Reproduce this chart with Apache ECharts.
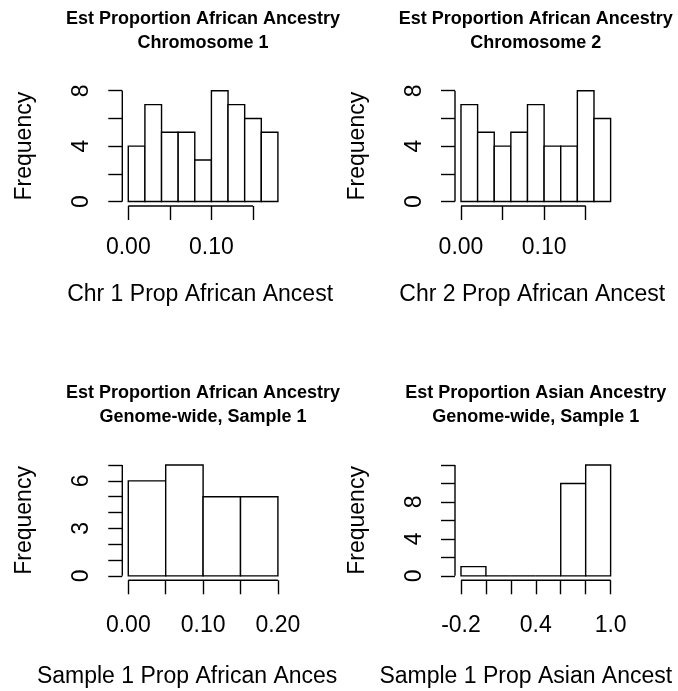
<!DOCTYPE html>
<html><head><meta charset="utf-8">
<script src="https://cdn.jsdelivr.net/npm/echarts@6/dist/echarts.min.js"></script>
<style>html,body{margin:0;padding:0;background:#fff}#c{width:678px;height:691px}</style>
</head><body><div id="c"></div>
<script>
// ---------- data ----------
const chr1Edges = [0, 0.02, 0.04, 0.06, 0.08, 0.10, 0.12, 0.14, 0.16, 0.18];
const chr1Counts = [4, 7, 5, 5, 3, 8, 7, 6, 5];
const chr2Edges = [0, 0.02, 0.04, 0.06, 0.08, 0.10, 0.12, 0.14, 0.16, 0.18];
const chr2Counts = [7, 5, 4, 5, 7, 4, 4, 8, 6];
const afrEdges = [0, 0.05, 0.10, 0.15, 0.20];
const afrCounts = [6, 7, 5, 5];
const asnEdges = [-0.2, 0, 0.2, 0.4, 0.6, 0.8, 1.0];
const asnCounts = [1, 0, 0, 0, 10, 12];

const chrXTicks = [0, 0.05, 0.10, 0.15];
const chrXLabels = [0, 0.10];
const chrYTicks = [0, 2, 4, 6, 8];
const chrYLabels = [0, 4, 8];
const afrXTicks = [0, 0.05, 0.10, 0.15, 0.20];
const afrXLabels = [0, 0.10, 0.20];
const afrYTicks = [0, 1, 2, 3, 4, 5, 6, 7];
const afrYLabels = [0, 3, 6];
const asnXTicks = [-0.2, 0, 0.2, 0.4, 0.6, 0.8, 1.0];
const asnXLabels = [-0.2, 0.4, 1.0];
const asnYTicks = [0, 2, 4, 6, 8, 10, 12];
const asnYLabels = [0, 4, 8];

const titles = [
  'Est Proportion African Ancestry\nChromosome 1',
  'Est Proportion African Ancestry\nChromosome 2',
  'Est Proportion African Ancestry\nGenome-wide, Sample 1',
  'Est Proportion Asian Ancestry\nGenome-wide, Sample 1'
];
const xNames = ['Chr 1 Prop African Ancest', 'Chr 2 Prop African Ancest',
                'Sample 1 Prop African Ances', 'Sample 1 Prop Asian Ancest'];
const yName = 'Frequency';

// ---------- layout ----------
const FONT = 'Liberation Sans, Arial, Helvetica, sans-serif';
const FS = 23;
const panels = [
  {edges: chr1Edges, counts: chr1Counts, xt: chrXTicks, xl: chrXLabels, yt: chrYTicks, yl: chrYLabels, dec: 2,
   left: 122.3, top: 86.3, labMargin: 30, nameGap: 77, namePad: 6, titleTop: 7},
  {edges: chr2Edges, counts: chr2Counts, xt: chrXTicks, xl: chrXLabels, yt: chrYTicks, yl: chrYLabels, dec: 2,
   left: 455, top: 86.3, labMargin: 30, nameGap: 77, namePad: 7, titleTop: 7},
  {edges: afrEdges, counts: afrCounts, xt: afrXTicks, xl: afrXLabels, yt: afrYTicks, yl: afrYLabels, dec: 2,
   left: 122.3, top: 460.6, labMargin: 34, nameGap: 85, namePad: 32, titleTop: 381.3},
  {edges: asnEdges, counts: asnCounts, xt: asnXTicks, xl: asnXLabels, yt: asnYTicks, yl: asnYLabels, dec: 1,
   left: 455, top: 460.6, labMargin: 34, nameGap: 85, namePad: 20, titleTop: 381.3}
];
const W = 161.6, H = 119.7;

const option = {
  animation: false,
  backgroundColor: '#fff',
  title: [], grid: [], xAxis: [], yAxis: [], series: []
};

panels.forEach((p, i) => {
  const xlo = p.edges[0], xhi = p.edges[p.edges.length - 1];
  const yhi = Math.max(...p.counts);
  const xmin = xlo - 0.04 * (xhi - xlo), xmax = xhi + 0.04 * (xhi - xlo);
  const ymin = -0.04 * yhi, ymax = yhi * 1.04;
  option.grid.push({left: p.left, top: p.top, width: W, height: H, outerBoundsMode: 'none', containLabel: false});
  option.title.push({
    text: titles[i], left: p.left + W / 2, top: p.titleTop, textAlign: 'center', padding: 0,
    textStyle: {fontFamily: FONT, fontSize: 18, fontWeight: 'bold', color: '#000', lineHeight: 24}
  });
  option.xAxis.push({
    gridIndex: i, type: 'value', min: xmin, max: xmax,
    axisLine: {show: false, onZero: false},
    axisTick: {show: true, length: 14, customValues: p.xt, lineStyle: {color: '#000', width: 1.4}},
    axisLabel: {customValues: p.xl, formatter: v => Number(v).toFixed(p.dec), fontFamily: FONT,
                fontSize: FS, color: '#000', margin: p.labMargin},
    splitLine: {show: false},
    name: xNames[i], nameLocation: 'middle', nameGap: p.nameGap,
    nameTextStyle: {fontFamily: FONT, fontSize: FS, color: '#000', padding: [0, p.namePad, 0, 0]}
  });
  option.yAxis.push({
    gridIndex: i, type: 'value', min: ymin, max: ymax,
    axisLine: {show: false, onZero: false},
    axisTick: {show: true, length: 14, customValues: p.yt, lineStyle: {color: '#000', width: 1.4}},
    axisLabel: {customValues: p.yl, rotate: 90, fontFamily: FONT, fontSize: FS, color: '#000', margin: 29},
    splitLine: {show: false},
    name: yName, nameLocation: 'middle', nameGap: 86, nameRotate: 90,
    nameTextStyle: {fontFamily: FONT, fontSize: FS, color: '#000'}
  });
  // histogram bars
  const bars = p.counts.map((c, k) => [p.edges[k], p.edges[k + 1], c]);
  option.series.push({
    type: 'custom', xAxisIndex: i, yAxisIndex: i, data: bars, clip: false,
    renderItem: (params, api) => {
      const a = api.coord([api.value(0), 0]);
      const b = api.coord([api.value(1), api.value(2)]);
      return {type: 'rect', shape: {x: a[0], y: b[1], width: b[0] - a[0], height: a[1] - b[1]},
              style: {fill: '#fff', stroke: '#000', lineWidth: 1.4}};
    }
  });
  // axis lines (span first to last tick, at plot-region edge like R)
  const axisData = [[p.xt[0], p.xt[p.xt.length - 1], p.yt[0], p.yt[p.yt.length - 1], xmin, ymin]];
  option.series.push({
    type: 'custom', xAxisIndex: i, yAxisIndex: i, data: axisData, clip: false, silent: true,
    renderItem: (params, api) => {
      const xa = api.coord([api.value(0), api.value(5)]);
      const xb = api.coord([api.value(1), api.value(5)]);
      const ya = api.coord([api.value(4), api.value(2)]);
      const yb = api.coord([api.value(4), api.value(3)]);
      const st = {stroke: '#000', lineWidth: 1.4};
      return {type: 'group', children: [
        {type: 'line', shape: {x1: xa[0], y1: xa[1], x2: xb[0], y2: xb[1]}, style: st},
        {type: 'line', shape: {x1: ya[0], y1: ya[1], x2: yb[0], y2: yb[1]}, style: st}
      ]};
    }
  });
});

const chart = echarts.init(document.getElementById('c'), null, {renderer: 'canvas'});
chart.setOption(option);
</script>
</body></html>
